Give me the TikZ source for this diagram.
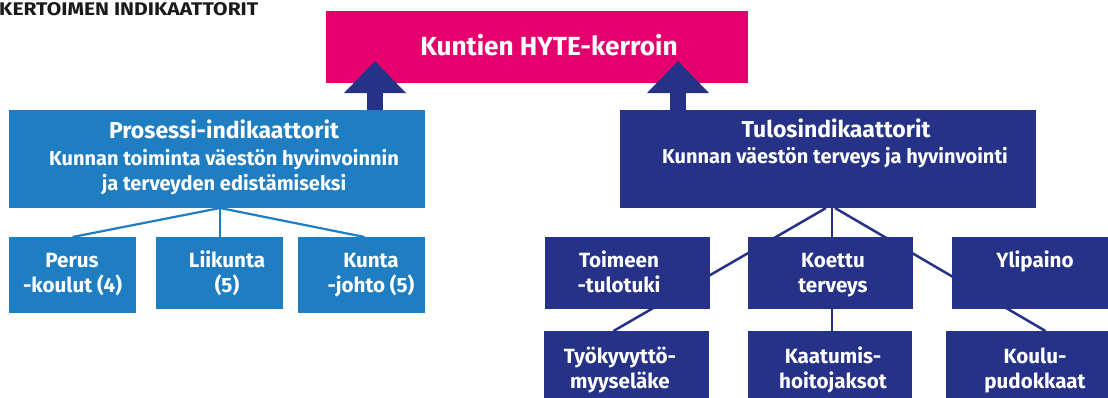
\documentclass[tikz,border=0pt]{standalone}
\usepackage{fontspec}
\setmainfont{Fira Sans}
\usetikzlibrary{arrows.meta,calc}
\definecolor{hpink}{RGB}{229,0,110}
\definecolor{hblue}{RGB}{31,126,194}
\definecolor{hnavy}{RGB}{37,50,135}
\definecolor{hblack}{RGB}{26,26,26}
\newcommand{\fsz}[1]{\fontsize{#1}{#1}\selectfont}
\begin{document}
\begin{tikzpicture}[x=1pt,y=-1pt,
  boxbase/.style={rectangle, inner sep=0pt, outer sep=0pt, anchor=north west, draw=none},
  pinkbox/.style={boxbase, fill=hpink},
  bluebox/.style={boxbase, fill=hblue},
  navybox/.style={boxbase, fill=hnavy},
  txt/.style={anchor=base, inner sep=0pt, text=white, font=\bfseries\fsz{20.6}},
  headtxt/.style={txt, font=\bfseries\fsz{23}},
  subtxt/.style={txt, font=\bfseries\fsz{20}},
  toptxt/.style={txt, font=\bfseries\fsz{26.2}},
  bluelink/.style={draw=hblue, line width=2.2pt},
  navylink/.style={draw=hnavy, line width=2.5pt},
  bigarrow/.style={draw=hnavy, line width=16.5pt, -{Triangle[width=60pt,length=32pt]}}
]
\useasboundingbox (0,0) rectangle (1108,397);

% title
\node[anchor=base west, inner sep=0pt, text=hblack] (title) at (-1,15)
  {\resizebox{259pt}{13pt}{\bfseries KERTOIMEN INDIKAATTORIT}};

% boxes
\node[pinkbox, minimum width=422pt, minimum height=72pt] (hyte) at (326,11) {};
\node[bluebox, minimum width=416pt, minimum height=98pt] (pros) at (9,110) {};
\node[navybox, minimum width=416pt, minimum height=98pt] (tulos) at (620,110) {};

\node[bluebox, minimum width=127pt, minimum height=76pt] (perus) at (9,237) {};
\node[bluebox, minimum width=127pt, minimum height=72pt] (liik) at (156,237) {};
\node[bluebox, minimum width=127pt, minimum height=76pt] (kunta) at (298,237) {};

% connectors (behind navy boxes)
\coordinate (hubL) at (220,208);
\draw[bluelink] (hubL) -- (perus.north);
\draw[bluelink] (hubL) -- (hubL |- liik.north);
\draw[bluelink] (hubL) -- ($(kunta.north)+(3,0)$);

\coordinate (hubR) at (832,208);
\coordinate (hubRl) at (826,208);
\coordinate (hubRr) at (835,208);

\node[navybox, minimum width=165pt, minimum height=70pt] (tyo) at (544,331) {};
\node[navybox, minimum width=164pt, minimum height=70pt] (kaat) at (748,331) {};
\node[navybox, minimum width=175pt, minimum height=70pt] (koulu) at (946,331) {};

\draw[navylink] (hubRl) -- ($(tyo.north)+(-13,0)$);
\draw[navylink] (hubR) -- (hubR |- kaat.north);
\draw[navylink] (hubRr) -- ($(koulu.north)+(12,0)$);

\node[navybox, minimum width=165pt, minimum height=72pt] (toim) at (545,237) {};
\node[navybox, minimum width=165pt, minimum height=72pt] (koet) at (748,237) {};
\node[navybox, minimum width=170pt, minimum height=72pt] (yli) at (952,237) {};

% big arrows
\coordinate (tipL) at (375,61);
\coordinate (tipR) at (678,61);
\draw[bigarrow] (tipL |- pros.north) -- (tipL);
\draw[bigarrow] (tipR |- tulos.north) -- (tipR);

% texts
\node[toptxt] at (549,55) {Kuntien HYTE-kerroin};

\node[headtxt] at (224,138) {Prosessi-indikaattorit};
\node[subtxt] at (224,165) {Kunnan toiminta väestön hyvinvoinnin};
\node[subtxt] at (224,190) {ja terveyden edistämiseksi};

\node[headtxt] at (836,137) {Tulosindikaattorit};
\node[subtxt] at (835,163) {Kunnan väestön terveys ja hyvinvointi};

\node[txt] at (72,267) {Perus};
\node[txt] at (72.5,292) {-koulut (4)};
\node[txt] at (227,267) {Liikunta};
\node[txt] at (227,292) {(5)};
\node[txt] at (371,267) {Kunta};
\node[txt] at (371,292) {-johto (5)};

\node[txt] at (619,267) {Toimeen};
\node[txt] at (619,292) {-tulotuki};
\node[txt] at (833,267) {Koettu};
\node[txt] at (833,292) {terveys};
\node[txt] at (1035,267) {Ylipaino};

\node[txt] at (620,363) {Työkyvyttö-};
\node[txt] at (620,388) {myyseläke};
\node[txt] at (833,363) {Kaatumis-};
\node[txt] at (833,388) {hoitojaksot};
\node[txt] at (1035,363) {Koulu-};
\node[txt] at (1035,388) {pudokkaat};
\end{tikzpicture}
\end{document}
